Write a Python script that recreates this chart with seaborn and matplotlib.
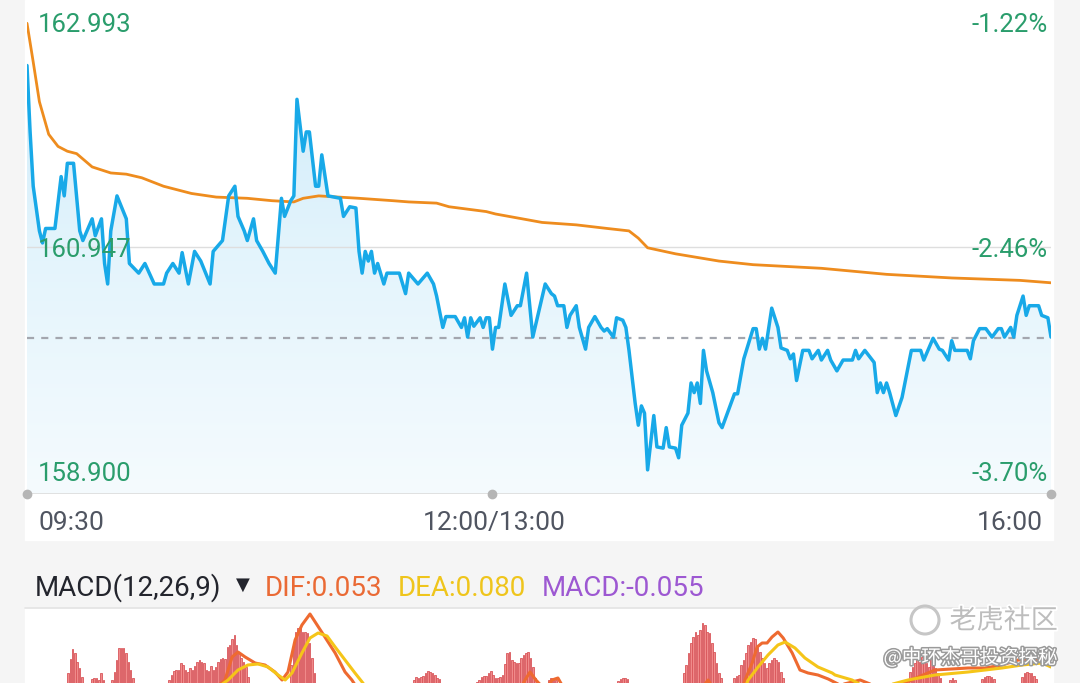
import numpy as np
import matplotlib
matplotlib.use("Agg")
import matplotlib.pyplot as plt
import matplotlib.patheffects as pe
from matplotlib.colors import LinearSegmentedColormap
from matplotlib.patches import Rectangle, Circle
from matplotlib.lines import Line2D
import seaborn as sns
import pandas as pd

# ---- data (minutes since 09:30, lunch break removed) ----
price_labels = ["162.993", "160.947", "158.900"]
pct_labels = ["-1.22%", "-2.46%", "-3.70%"]
time_labels = ["09:30", "12:00/13:00", "16:00"]
time_ticks = [0, 150, 330]
price_lo, price_hi = 158.900, 162.993
ref_price = 160.19

price_min = [0, 1, 2, 4, 5, 6, 9, 11, 12, 13,
             15, 17, 18, 21, 22, 24, 25, 26, 27, 29,
             32, 33, 36, 38, 41, 44, 45, 47, 49, 50,
             52, 54, 56, 59, 60, 63, 65, 67, 68, 70,
             71, 73, 74, 76, 78, 80, 82, 83, 85, 86,
             87, 89, 90, 91, 93, 94, 95, 97, 101, 102,
             104, 106, 107, 108, 109, 110, 111, 112, 113, 115,
             116, 120, 122, 123, 126, 129, 131, 132, 134, 135,
             138, 140, 141, 142, 143, 144, 146, 147, 148, 149,
             150, 151, 152, 154, 156, 158, 159, 161, 163, 167,
             169, 170, 171, 173, 174, 175, 177, 178, 180, 181,
             183, 185, 186, 187, 189, 190, 192, 193, 194, 196,
             197, 198, 199, 200, 202, 203, 205, 206, 207, 209,
             210, 211, 213, 214, 215, 216, 217, 218, 219, 221,
             223, 224, 228, 229, 231, 234, 235, 236, 237, 238,
             240, 242, 243, 245, 246, 247, 248, 250, 252, 253,
             255, 256, 258, 259, 261, 263, 266, 267, 268, 270,
             273, 274, 275, 276, 277, 278, 280, 282, 285, 288,
             289, 292, 294, 295, 297, 298, 299, 303, 304, 305,
             307, 309, 311, 313, 314, 315, 317, 318, 319, 321,
             322, 323, 326, 327, 329, 330]
price = [162.45, 161.90, 161.45, 161.08, 160.98, 161.10, 161.10, 161.53, 161.37, 161.64,
         161.64, 161.08, 161.00, 161.18, 161.04, 161.18, 160.81, 160.64, 161.08, 161.37,
         161.18, 160.81, 160.73, 160.81, 160.64, 160.64, 160.73, 160.81, 160.73, 160.90,
         160.64, 160.91, 160.83, 160.64, 160.91, 161.00, 161.37, 161.45, 161.20, 161.08,
         161.00, 161.18, 161.00, 160.91, 160.81, 160.73, 161.35, 161.20, 161.33, 161.37,
         162.17, 161.74, 161.90, 161.90, 161.45, 161.45, 161.71, 161.37, 161.35, 161.20,
         161.28, 161.27, 160.91, 160.73, 160.91, 160.83, 160.91, 160.73, 160.81, 160.64,
         160.73, 160.73, 160.56, 160.73, 160.64, 160.73, 160.64, 160.54, 160.28, 160.37,
         160.37, 160.28, 160.36, 160.20, 160.36, 160.29, 160.36, 160.28, 160.36, 160.36,
         160.10, 160.28, 160.28, 160.64, 160.38, 160.46, 160.46, 160.73, 160.20, 160.64,
         160.56, 160.54, 160.46, 160.46, 160.28, 160.38, 160.46, 160.28, 160.10, 160.28,
         160.37, 160.28, 160.25, 160.27, 160.20, 160.36, 160.34, 160.28, 160.09, 159.65,
         159.47, 159.63, 159.57, 159.10, 159.55, 159.29, 159.28, 159.45, 159.29, 159.28,
         159.20, 159.47, 159.57, 159.82, 159.74, 159.82, 159.65, 160.09, 159.92, 159.74,
         159.49, 159.45, 159.73, 159.73, 160.02, 160.27, 160.27, 160.10, 160.19, 160.10,
         160.44, 160.28, 160.11, 160.09, 160.02, 160.06, 159.84, 160.09, 160.09, 160.02,
         160.09, 160.01, 160.09, 160.01, 159.92, 160.01, 160.01, 160.09, 160.02, 160.09,
         159.99, 159.74, 159.82, 159.74, 159.82, 159.74, 159.55, 159.70, 160.09, 160.09,
         160.01, 160.19, 160.10, 160.09, 160.01, 160.17, 160.09, 160.09, 160.02, 160.17,
         160.27, 160.27, 160.20, 160.27, 160.27, 160.20, 160.28, 160.20, 160.38, 160.54,
         160.38, 160.46, 160.46, 160.38, 160.36, 160.20]

avg_min = [0, 2, 4, 7, 10, 13, 16, 21, 27, 32, 37, 44, 53, 61, 71, 79, 86, 89, 94,
           107, 118, 123, 132, 136, 148, 151, 166, 177, 187, 194, 197, 200, 209,
           223, 234, 256, 277, 298, 320, 330]
avg_price = [162.80, 162.48, 162.15, 161.88, 161.78, 161.74, 161.72, 161.61, 161.56,
             161.55, 161.52, 161.45, 161.39, 161.36, 161.35, 161.33, 161.32, 161.35,
             161.37, 161.35, 161.33, 161.32, 161.31, 161.28, 161.24, 161.22, 161.15,
             161.13, 161.10, 161.08, 161.02, 160.94, 160.89, 160.83, 160.80, 160.77,
             160.72, 160.69, 160.67, 160.65]

# MACD histogram clusters: first bar minute + bar heights
macd_step = 0.75
macd_start = [13.2, 20.9, 27.4, 45.8, 85.1, 124.7, 145.0, 168.2, 190.5, 211.7,
              227.9, 284.6, 297.5, 307.8, 320.7]
macd_hist = [
    [.108, .164, .204, .188, .152, .128, .092],
    [.084, .088, .088, .080, .108, .080],
    [.080, .112, .160, .208, .208, .208, .188, .152, .120, .088],
    [.080, .100, .116, .120, .120, .148, .140, .120, .112, .128, .120, .136, .152, .160,
     .152, .148, .120, .116, .136, .120, .132, .152, .164, .168, .164, .212, .220, .244,
     .260, .220, .188, .168, .152, .132, .092],
    [.140, .220, .272, .288, .292, .272, .272, .268, .228, .168, .108],
    [.080, .092, .088, .092, .096, .108, .116, .112, .108, .100, .088, .084],
    [.072, .080, .092, .096, .096, .108, .116, .100, .088, .088, .092, .100, .144, .188,
     .192, .160, .152, .148, .148, .168, .180, .188, .192, .168, .132, .088],
    [.080, .088, .088, .080],
    [.076, .084, .088, .088, .084],
    [.108, .140, .188, .228, .252, .272, .260, .280, .308, .300, .272, .268, .228, .192,
     .148, .108, .088],
    [.088, .096, .100, .140, .160, .188, .220, .232, .248, .244, .212, .192, .168, .148,
     .128, .148, .160, .168, .160, .152, .112, .088],
    [.112, .132, .148, .160, .152, .172, .160, .148, .132, .168, .148, .128, .108, .088],
    [.080, .088, .080],
    [.084, .092, .096, .096, .092, .084],
    [.092, .108, .112, .108, .108, .096, .084],
]

dif_min = [55.8, 63.8, 66.1, 68.0, 70.3, 73.5, 76.7, 79.9, 82.2, 84.1, 86.4, 88.6, 91.2,
           93.5, 96.0, 99.3, 102.5, 104.7, 108.9, 157.3, 160.5, 162.1, 164.0, 167.0,
           169.2, 171.1, 173.3, 191.1, 216.9, 219.5, 221.4, 229.8, 231.4, 233.7, 235.3,
           236.9, 238.5, 240.1, 242.0, 243.7, 246.6, 249.1, 251.7, 254.9, 258.2, 262.0,
           268.5, 274.9, 281.4, 287.2, 292.6, 303.3, 308.8, 314.2, 319.4, 324.9, 328.1, 330]
dif_val = [0, .080, .172, .192, .172, .148, .140, .112, .080, .112, .240, .300, .344,
           .300, .252, .188, .112, .080, 0, 0, .080, .112, .080, .040,
           .080, .088, .040, 0, .040, .080, .040, .020, .080, .148, .212,
           .228, .228, .252, .272, .248, .188, .120, .108, .100, .084, .060,
           .080, .048, .060, .092, .120, .128, .128, .140, .160, .160, .168, .148]
dea_min = [55.8, 64.8, 68.0, 71.2, 74.5, 77.7, 80.9, 83.2, 85.4, 88.6, 91.2, 93.8, 96.7,
           99.3, 102.5, 105.7, 108.0, 112.2, 229.8, 232.4, 235.6, 238.8, 242.0, 244.3,
           247.5, 250.7, 254.9, 259.5, 260.4, 265.9, 271.7, 283.9, 292.6, 303.3, 308.8,
           314.2, 320.7, 327.1, 330]
dea_val = [0, .080, .120, .140, .144, .132, .100, .080, .108, .188, .248, .268, .256,
           .212, .160, .108, .072, 0, 0, .080, .132, .180, .220, .232,
           .208, .168, .132, .108, .100, .080, .040, .080, .100, .112, .120,
           .128, .140, .148, .132]

# ---- style ----
sns.set_theme(style="white")
plt.rcParams["font.family"] = ["Roboto", "Noto Sans CJK SC", "DejaVu Sans"]

W, H = 1080, 683
fig = plt.figure(figsize=(W / 100, H / 100), dpi=100, facecolor="#f5f5f5")


def fx(px):
    return px / W


def fy(py):
    return 1 - py / H


# white panels (behind the axes)
fig.patches.append(Rectangle((fx(25), fy(540)), fx(1028), 540 / H,
                             transform=fig.transFigure, color="white", zorder=-5))
fig.patches.append(Rectangle((fx(25), 0), fx(1028), 75 / H,
                             transform=fig.transFigure, color="white", zorder=-5))
fig.add_artist(Line2D([fx(25), fx(1053)], [fy(608), fy(608)], color="#e3e3e3", lw=1.2,
                      zorder=-4))

# ---- price panel ----
ax = fig.add_axes([fx(27), fy(494), fx(1024), 494 / H])
ax.set_facecolor("none")
ax.axis("off")

green = "#2a9d6c"
blue_line = "#18a9e8"
orange = "#ee8c1e"

poly = ax.fill_between(price_min, price, price_lo, color="none", lw=0)
cmap = LinearSegmentedColormap.from_list("fade", ["#f5fbfe", "#e3f4fc", "#c9e9f9"])
grad = np.linspace(0, 1, 256).reshape(-1, 1)
im = ax.imshow(grad, extent=[0, 330, price_lo, price_hi], origin="lower",
               aspect="auto", cmap=cmap, zorder=1)
im.set_clip_path(poly.get_paths()[0], transform=ax.transData)

mid_price = (price_lo + price_hi) / 2
ax.axhline(mid_price, color="#dedede", lw=1.0, zorder=1.5)
ax.axhline(price_lo, color="#dcdcdc", lw=1.2, zorder=1.5)
ax.axhline(ref_price, color="#a3a6ae", lw=1.6, dashes=(3.2, 3.2), zorder=1.6)

df_price = pd.DataFrame({"minute": price_min, "price": price})
df_avg = pd.DataFrame({"minute": avg_min, "price": avg_price})
sns.lineplot(data=df_avg, x="minute", y="price", ax=ax, color=orange, lw=2.0, zorder=3)
sns.lineplot(data=df_price, x="minute", y="price", ax=ax, color=blue_line, lw=2.5, zorder=4)

ax.plot(time_ticks, [price_lo] * len(time_ticks), "o", ms=6, color="#b5b5b5",
        clip_on=False, zorder=5)
ax.set_xlim(0, 330)
ax.set_ylim(price_lo, price_hi)

lx, rx = (38 - 27) / 1024, (1048 - 27) / 1024
for lab, pct, yy in zip(price_labels, pct_labels, [1 - 25 / 494, 1 - 250 / 494, 1 - 474 / 494]):
    ax.text(lx, yy, lab, transform=ax.transAxes, ha="left", va="center",
            fontsize=18.5, color=green, zorder=6)
    ax.text(rx, yy, pct, transform=ax.transAxes, ha="right", va="center",
            fontsize=18.5, color=green, zorder=6)

tcol = "#505561"
fig.text(fx(38), fy(523), time_labels[0], ha="left", va="center", fontsize=19, color=tcol)
fig.text(fx(494), fy(523), time_labels[1], ha="center", va="center", fontsize=19, color=tcol)
fig.text(fx(1043), fy(523), time_labels[2], ha="right", va="center", fontsize=19, color=tcol)

# ---- MACD header ----
hy = fy(588)
fig.text(fx(35), hy, "MACD(12,26,9)", ha="left", va="center", fontsize=20, color="#23252d")
fig.text(fx(243), fy(585), "▼", ha="center", va="center", fontsize=13, color="#23252d",
         family=["DejaVu Sans"])
fig.text(fx(265), hy, "DIF:0.053", ha="left", va="center", fontsize=20, color="#ea6a35")
fig.text(fx(398), hy, "DEA:0.080", ha="left", va="center", fontsize=20, color="#efc51c")
fig.text(fx(542), hy, "MACD:-0.055", ha="left", va="center", fontsize=20, color="#9d58d2")

# ---- MACD panel ----
ax2 = fig.add_axes([fx(27), 0, fx(1024), 75 / H])
ax2.set_facecolor("none")
ax2.axis("off")
for start, vals in zip(macd_start, macd_hist):
    xs = start + macd_step * np.arange(len(vals))
    ax2.bar(xs, vals, width=0.5, color="#f08a8a", edgecolor="#d9565a", lw=0.6, zorder=2)
sns.lineplot(x=dif_min, y=dif_val, ax=ax2, color="#ee6a30", lw=2.2, zorder=3)
sns.lineplot(x=dea_min, y=dea_val, ax=ax2, color="#f5c518", lw=2.2, zorder=3)
ax2.set_xlim(0, 330)
ax2.set_ylim(0.068, 0.368)

# ---- watermark ----
halo = [pe.withStroke(linewidth=2.5, foreground="white")]
fig.text(fx(1058), fy(621), "老虎社区", ha="right", va="center", fontsize=19.5,
         color="#bdbdbd", family=["Noto Sans CJK SC"], path_effects=halo, zorder=10)
fig.patches.append(Circle((9.25, (H - 620) / 100), 0.14, transform=fig.dpi_scale_trans,
                          fill=False, ec="#c6c6c6", lw=2.2, zorder=10))
fig.text(fx(1058), fy(658), "@中环杰哥投资探秘", ha="right", va="center", fontsize=14,
         color="white", family=["Noto Sans CJK SC", "DejaVu Sans"],
         path_effects=[pe.withStroke(linewidth=2.2, foreground="#9a9a9a")], zorder=10)

fig.savefig("out.png", dpi=100, facecolor=fig.get_facecolor())
